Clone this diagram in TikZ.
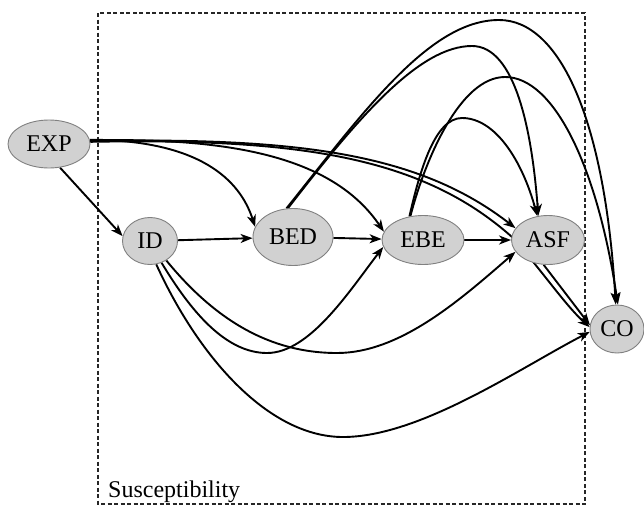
\documentclass[tikz,border=0pt]{standalone}
\usepackage{fontspec}
\setmainfont{Liberation Serif}
\usetikzlibrary{shapes.geometric,arrows.meta,backgrounds}

\tikzset{
  var/.style={ellipse, draw=black!50, line width=0.9pt, fill=black!18,
              inner sep=0pt, font=\fontsize{24}{28}\selectfont},
  arr/.style={line width=1.9pt, -{Stealth[length=12pt,width=9pt,inset=3.5pt]}},
  frame/.style={line width=1.4pt, dash pattern=on 4pt off 2.5pt, black!85},
}

\begin{document}
\begin{tikzpicture}[x=1pt,y=-1pt]
\useasboundingbox (0,0) rectangle (644,506);

% variables
\node[var, minimum width=82pt, minimum height=48pt] (EXP) at (49,144) {EXP};
\node[var, minimum width=55pt, minimum height=47pt] (ID)  at (150,241) {ID};
\node[var, minimum width=80pt, minimum height=57pt] (BED) at (293,237) {BED};
\node[var, minimum width=82pt, minimum height=49pt] (EBE) at (423,240) {EBE};
\node[var, minimum width=73pt, minimum height=49pt] (ASF) at (548,240) {ASF};
\node[var, minimum width=54pt, minimum height=48pt] (CO)  at (617,329) {CO};

% way points of the curved paths
\coordinate (thru) at (512,237);
\coordinate (m1) at (267,353);
\coordinate (m2) at (337,353);
\coordinate (m3) at (343,437);
\coordinate (t1) at (499,20);
\coordinate (t2) at (472,46);
\coordinate (t3) at (505,77);
\coordinate (t4) at (462,118);

\begin{pgfonlayer}{background}
  % susceptibility block
  \draw[frame] (98,13) rectangle (585,504);
  \node[anchor=base west, inner sep=0pt, font=\fontsize{24}{28}\selectfont]
    (susc) at (108,497) {Susceptibility};

  % straight links
  \draw[arr] (EXP.-65) -- (ID.170);
  \draw[arr] (ID) -- (BED);
  \draw[arr] (BED) -- (EBE);
  \draw[arr] (EBE) -- (ASF);
  \draw[arr] (ASF.-100) -- (CO.172);

  % links leaving EXP
  \draw[arr] (EXP.6) .. controls (200,140) and (240,180) .. (BED.165);
  \draw[arr] (EXP.5) .. controls (240,137) and (335,160) .. (EBE.168);
  \draw[arr] (EXP.4) .. controls (300,137) and (420,154) .. (ASF.160);
  \draw[arr] (EXP.3) .. controls (300,138) and (422,157) .. (thru)
             .. controls (540,268) and (565,305) .. (CO.176);

  % links leaving ID below the row
  \draw[arr] (ID.-62) .. controls (190,310) and (225,353) .. (m1)
             .. controls (310,353) and (350,290) .. (EBE.190);
  \draw[arr] (ID.-50) .. controls (215,320) and (270,353) .. (m2)
             .. controls (400,353) and (460,300) .. (ASF.200);
  \draw[arr] (ID.-75) .. controls (200,360) and (270,437) .. (m3)
             .. controls (420,437) and (520,368) .. (CO.186);

  % arcs above the row
  \draw[arr] (BED.103) .. controls (365,110) and (430,20) .. (t1)
             .. controls (560,20) and (605,120) .. (CO.93);
  \draw[arr] (BED.100) .. controls (360,115) and (420,46) .. (t2)
             .. controls (515,46) and (532,130) .. (ASF.112);
  \draw[arr] (EBE.118) .. controls (425,160) and (460,77) .. (t3)
             .. controls (555,77) and (598,170) .. (CO.88);
  \draw[arr] (EBE.120) .. controls (420,170) and (435,118) .. (t4)
             .. controls (495,118) and (522,160) .. (ASF.114);
\end{pgfonlayer}
\end{tikzpicture}
\end{document}
